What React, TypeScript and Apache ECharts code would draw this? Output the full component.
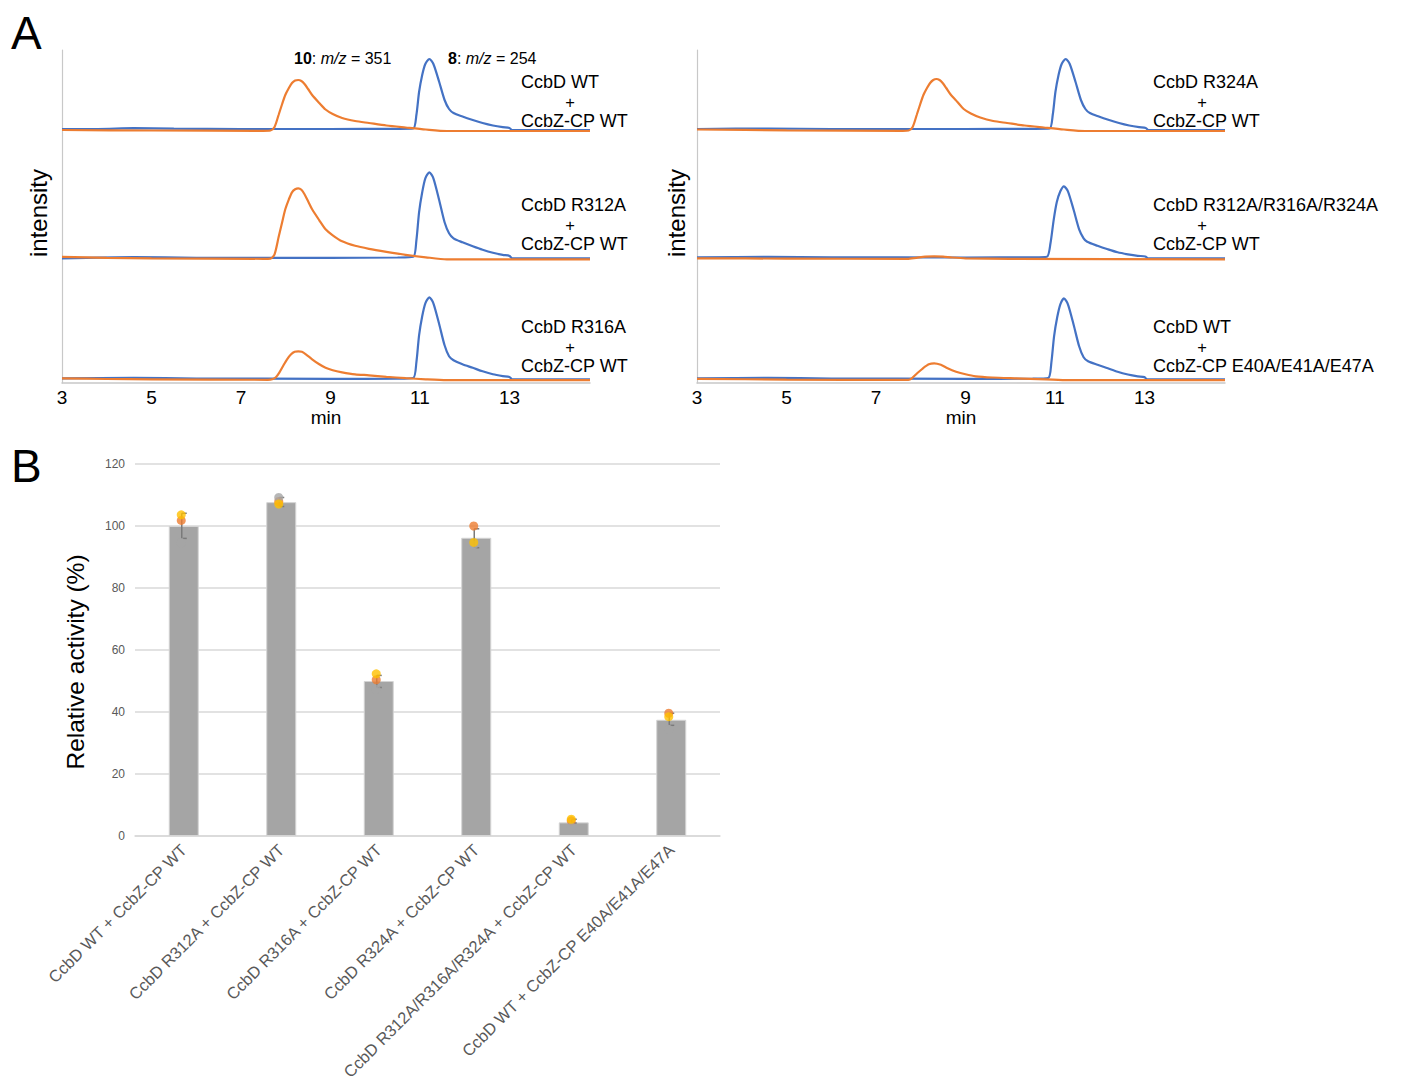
import { useEffect, useRef } from "react";
import * as echarts from "echarts";

const FONT = "'Liberation Sans', Arial, Helvetica, sans-serif";
const BLUE = "#4472C4";
const ORANGE = "#ED7D31";
const AXIS_GREY = "#c8c8c8";

// ---------- Panel A: chromatograms (time in min, intensity in arbitrary units) ----------
const TIME_TICKS = [3, 5, 7, 9, 11, 13];
const TIME_MIN = 3;
const TIME_MAX = 14.8;

const L1_BLUE = [[3,1],[3.8,1],[4.6,1.8],[5.5,1.3],[7,1],[9,1],[10.5,1.2],[10.85,1.6],[10.92,15],[10.98,38],[11.05,55],[11.12,66],[11.21,71],[11.3,66],[11.43,48],[11.55,30],[11.65,21],[11.75,17],[11.95,13.5],[12.18,10],[12.4,7],[12.63,4.5],[12.85,2.8],[13.0,2],[13.06,0],[14.8,0]];
const L1_ORANGE = [[3,0],[5,-0.5],[7.5,-0.8],[7.66,-0.5],[7.75,3],[7.84,15],[7.92,26],[7.99,35],[8.07,42],[8.14,47],[8.21,49.5],[8.28,50],[8.35,49],[8.42,46],[8.5,41],[8.59,35],[8.75,27],[8.89,20.5],[9.05,16],[9.26,12],[9.55,9],[9.86,7],[10.25,4.5],[10.68,2.5],[11.13,0.5],[11.6,-1],[14.8,-1]];

const L2_BLUE = [[3,0],[4.6,1.2],[6,0.5],[9,0.5],[10.5,0.8],[10.85,1.5],[10.92,18],[10.98,46],[11.05,66],[11.12,80],[11.21,86],[11.3,80],[11.43,58],[11.55,36],[11.65,25],[11.75,20],[11.95,16],[12.18,12],[12.4,8.5],[12.63,5.5],[12.85,3.4],[13.0,2.4],[13.06,0],[14.8,0]];
const L2_ORANGE = [[3,1.5],[4,0.5],[5,0],[7.5,-0.5],[7.66,-0.3],[7.75,4],[7.84,21],[7.92,36],[7.99,49],[8.07,59],[8.14,66],[8.21,69],[8.28,70],[8.35,68.5],[8.42,64],[8.5,57],[8.59,49],[8.75,38],[8.89,29],[9.05,23],[9.26,17],[9.55,12.5],[9.86,9.5],[10.25,6.5],[10.68,3.5],[11.13,1],[11.6,-1],[14.8,-1]];

const L3_BLUE = [[3,1],[4.6,1.5],[6,0.8],[9,0.5],[10.5,0.6],[10.85,1.3],[10.92,17],[10.98,44],[11.05,63],[11.12,76],[11.21,82],[11.3,76],[11.43,55],[11.55,34],[11.65,23],[11.75,19],[11.95,15],[12.18,11.5],[12.4,8],[12.63,5],[12.85,3.2],[13.0,2.3],[13.06,0],[14.8,0]];
const L3_ORANGE = [[3,1],[4,0.3],[5,0],[7.6,-0.5],[7.7,0],[7.78,2],[7.86,7],[7.95,14],[8.03,20],[8.12,25],[8.2,27.5],[8.28,28],[8.36,27.5],[8.45,25],[8.59,20],[8.75,15],[8.89,11.5],[9.05,9],[9.26,7],[9.55,5],[9.86,4],[10.25,2.5],[10.68,1.2],[11.13,0],[11.6,-0.8],[14.8,-0.8]];

const R1_BLUE = [[3,1],[4.6,1.5],[6,1],[9,1],[10.5,1.2],[10.88,1.6],[10.95,15],[11.01,38],[11.08,55],[11.15,66],[11.24,71],[11.33,66],[11.46,48],[11.58,30],[11.68,21],[11.78,17],[11.98,13.5],[12.21,10],[12.43,7],[12.66,4.5],[12.88,2.8],[13.03,2],[13.09,0],[14.8,0]];
const R1_ORANGE = [[3,0.5],[5,-0.3],[7.6,-0.8],[7.73,-0.5],[7.82,3],[7.91,15],[7.99,26],[8.06,35],[8.14,42],[8.21,47],[8.28,50],[8.35,51],[8.42,50],[8.49,47],[8.57,42],[8.66,36],[8.82,28],[8.96,21],[9.12,16.5],[9.33,12.5],[9.62,9],[9.93,7],[10.32,4.5],[10.75,2.5],[11.2,0.5],[11.67,-1],[14.8,-1]];

const R2_BLUE = [[3,1],[4.6,1.4],[6,1],[9,0.8],[10.5,1],[10.82,1.5],[10.9,15],[10.97,38],[11.04,56],[11.12,67],[11.2,72],[11.29,67],[11.42,48],[11.54,29],[11.64,20],[11.72,16.5],[11.95,12.5],[12.18,9],[12.4,6],[12.63,4],[12.85,2.5],[13.02,1.8],[13.08,0],[14.8,0]];
const R2_ORANGE = [[3,0],[5,-0.3],[7.7,-0.5],[7.9,0.5],[8.1,1.6],[8.3,2],[8.5,1.6],[8.7,0.8],[9,0],[10,-0.5],[14.8,-1]];

const R3_BLUE = [[3,1],[4.6,1.5],[6,0.8],[9,0.5],[10.5,0.6],[10.85,1.3],[10.92,17],[10.98,43],[11.05,62],[11.12,75],[11.2,81],[11.29,75],[11.42,54],[11.54,33],[11.64,22],[11.74,18],[11.95,14.5],[12.18,11],[12.4,7.5],[12.63,4.8],[12.85,3],[13.0,2.2],[13.06,0],[14.8,0]];
const R3_ORANGE = [[3,0.5],[5,-0.3],[7.6,-0.6],[7.72,-0.5],[7.8,1],[7.92,6],[8.05,11],[8.18,15],[8.3,16],[8.45,14.5],[8.6,11],[8.79,7.6],[9.0,5],[9.23,3],[9.6,1.8],[10.1,1],[10.8,0],[11.3,-0.8],[14.8,-0.8]];

const LEFT_TRACES = [[L1_BLUE, L1_ORANGE], [L2_BLUE, L2_ORANGE], [L3_BLUE, L3_ORANGE]];
const RIGHT_TRACES = [[R1_BLUE, R1_ORANGE], [R2_BLUE, R2_ORANGE], [R3_BLUE, R3_ORANGE]];

const LEFT_LABELS = [["CcbD WT", "CcbZ-CP WT"], ["CcbD R312A", "CcbZ-CP WT"], ["CcbD R316A", "CcbZ-CP WT"]];
const RIGHT_LABELS = [["CcbD R324A", "CcbZ-CP WT"], ["CcbD R312A/R316A/R324A", "CcbZ-CP WT"], ["CcbD WT", "CcbZ-CP E40A/E41A/E47A"]];

// ---------- Panel B: relative activity ----------
const CATEGORIES = [
  "CcbD WT + CcbZ-CP WT",
  "CcbD R312A + CcbZ-CP WT",
  "CcbD R316A + CcbZ-CP WT",
  "CcbD R324A + CcbZ-CP WT",
  "CcbD R312A/R316A/R324A + CcbZ-CP WT",
  "CcbD WT + CcbZ-CP E40A/E41A/E47A",
];
const MEAN_ACTIVITY = [100, 107.7, 50, 96.2, 4.4, 37.5];
const ERR_LOW = [96.0, 106.3, 47.9, 93.0, 4.2, 35.7];
const ERR_HIGH = [104.1, 109.2, 51.8, 99.1, 5.4, 39.6];
const REP_ORANGE = [101.8, 107.9, 50.4, 100.0, 4.9, 39.6];
const REP_GREY = [94.6, 109.2, 47.3, 93.9, 2.9, 34.4];
const REP_YELLOW = [103.6, 107.1, 52.3, 94.7, 5.4, 38.5];
const ACTIVITY_TICKS_MAX = 120;
const ACTIVITY_TICKS_STEP = 20;

export default function App() {
  const ref = useRef<HTMLDivElement>(null);

  useEffect(() => {
    if (!ref.current) return;
    const chart = echarts.init(ref.current, null, { renderer: "svg" });

    const colLefts = [62, 697];
    const rowDefs = [
      { top: 50, height: 85, min: -5 },
      { top: 135, height: 127, min: -3.7 },
      { top: 262, height: 121, min: -3.7 },
    ];

    const grids: any[] = [];
    const xAxes: any[] = [];
    const yAxes: any[] = [];
    const series: any[] = [];

    colLefts.forEach((left, c) => {
      const traces = c === 0 ? LEFT_TRACES : RIGHT_TRACES;
      rowDefs.forEach((rd, r) => {
        const gi = grids.length;
        grids.push({
          left,
          top: rd.top,
          width: 528,
          height: rd.height,
          containLabel: false,
          outerBoundsMode: "none",
        });
        const bottom = r === 2;
        xAxes.push({
          type: "value",
          gridIndex: gi,
          min: TIME_MIN,
          max: TIME_MAX,
          axisLine: { show: bottom, onZero: false, lineStyle: { color: AXIS_GREY, width: 1.5 } },
          axisTick: { show: false },
          splitLine: { show: false },
          axisLabel: {
            show: bottom,
            customValues: TIME_TICKS,
            fontSize: 19,
            color: "#000",
            margin: 5,
            fontFamily: FONT,
          },
          name: bottom ? "min" : "",
          nameLocation: "middle",
          nameGap: 18,
          nameTextStyle: { fontSize: 19, color: "#000", fontFamily: FONT },
        });
        yAxes.push({
          type: "value",
          gridIndex: gi,
          min: rd.min,
          max: rd.min + rd.height,
          axisLine: { show: true, onZero: false, lineStyle: { color: AXIS_GREY, width: 1.2 } },
          axisTick: { show: false },
          axisLabel: { show: false },
          splitLine: { show: false },
        });
        const [blue, orange] = traces[r];
        series.push({
          type: "line",
          xAxisIndex: gi,
          yAxisIndex: gi,
          data: blue,
          showSymbol: false,
          smooth: 0.25,
          lineStyle: { color: BLUE, width: 2.2 },
          itemStyle: { color: BLUE },
          z: 2,
        });
        series.push({
          type: "line",
          xAxisIndex: gi,
          yAxisIndex: gi,
          data: orange,
          showSymbol: false,
          smooth: 0.25,
          lineStyle: { color: ORANGE, width: 2.2 },
          itemStyle: { color: ORANGE },
          z: 3,
        });
      });
    });

    // Panel B grid
    const bi = grids.length;
    grids.push({
      left: 135,
      top: 464,
      width: 585,
      height: 372,
      containLabel: false,
      outerBoundsMode: "none",
    });
    xAxes.push({
      type: "category",
      gridIndex: bi,
      data: CATEGORIES,
      axisLine: { show: true, lineStyle: { color: "#d9d9d9", width: 1.5 } },
      axisTick: { show: false },
      axisLabel: {
        rotate: 45,
        interval: 0,
        fontSize: 16.5,
        color: "#595959",
        margin: 11,
        fontFamily: FONT,
      },
    });
    yAxes.push({
      type: "value",
      gridIndex: bi,
      min: 0,
      max: ACTIVITY_TICKS_MAX,
      interval: ACTIVITY_TICKS_STEP,
      axisLine: { show: false },
      axisTick: { show: false },
      axisLabel: { fontSize: 12, color: "#595959", margin: 10, fontFamily: FONT },
      splitLine: { show: true, lineStyle: { color: "#d9d9d9", width: 1.5 } },
    });

    series.push({
      type: "bar",
      xAxisIndex: bi,
      yAxisIndex: bi,
      data: MEAN_ACTIVITY,
      barWidth: 30,
      itemStyle: { color: "#a5a5a5", borderColor: "#d4d4d4", borderWidth: 1 },
      z: 2,
    });

    series.push({
      type: "custom",
      xAxisIndex: bi,
      yAxisIndex: bi,
      data: CATEGORIES.map((_, i) => [i, ERR_LOW[i], ERR_HIGH[i]]),
      encode: { x: 0, y: [1, 2] },
      z: 3,
      renderItem: (_params: any, api: any) => {
        const idx = api.value(0);
        const lo = api.coord([idx, api.value(1)]);
        const hi = api.coord([idx, api.value(2)]);
        const x = lo[0] - 2;
        const style = { stroke: "#7a7a7a", lineWidth: 1.5 };
        return {
          type: "group",
          children: [
            { type: "line", shape: { x1: x, y1: hi[1], x2: x, y2: lo[1] }, style },
            { type: "line", shape: { x1: x, y1: hi[1], x2: x + 5, y2: hi[1] }, style },
            { type: "line", shape: { x1: x + 1, y1: lo[1], x2: x + 5, y2: lo[1] }, style },
          ],
        };
      },
    });

    const reps: [number[], string][] = [
      [REP_ORANGE, "#ED7D31"],
      [REP_GREY, "#A5A5A5"],
      [REP_YELLOW, "#FFC000"],
    ];
    reps.forEach(([vals, color], k) => {
      series.push({
        type: "scatter",
        xAxisIndex: bi,
        yAxisIndex: bi,
        data: vals,
        symbol: "circle",
        symbolSize: 9,
        symbolOffset: [-2.5, 0],
        itemStyle: { color },
        z: 4 + k,
      });
    });

    // Texts
    const graphic: any[] = [];
    const textEl = (text: string, x: number, y: number, size: number, align = "left", extra: any = {}) => ({
      type: "text",
      x,
      y,
      style: {
        text,
        fontSize: size,
        fontFamily: FONT,
        fill: "#000",
        textAlign: align,
        textVerticalAlign: "middle",
        ...extra,
      },
    });

    graphic.push(textEl("A", 11, 33, 46));
    graphic.push(textEl("B", 11, 466, 46));

    // three-line condition labels
    const rowMidY = [101.5, 224.5, 346.5];
    const LINE_GAP = 19.3;
    [[521, LEFT_LABELS], [1153, RIGHT_LABELS]].forEach(([lx, labels]: any) => {
      labels.forEach((pair: string[], r: number) => {
        const ym = rowMidY[r];
        graphic.push(textEl(pair[0], lx, ym - LINE_GAP, 18));
        graphic.push(textEl("+", lx + 49, ym, 16.5, "center"));
        graphic.push(textEl(pair[1], lx, ym + LINE_GAP, 18));
      });
    });

    const richStyle = {
      b: { fontWeight: "bold", fontSize: 16, fontFamily: FONT },
      i: { fontStyle: "italic", fontSize: 16, fontFamily: FONT },
    };
    graphic.push({
      type: "text",
      x: 294,
      y: 58,
      style: {
        text: "{b|10}: {i|m/z} = 351",
        fontSize: 16,
        fontFamily: FONT,
        fill: "#000",
        textVerticalAlign: "middle",
        rich: richStyle,
      },
    });
    graphic.push({
      type: "text",
      x: 448,
      y: 58,
      style: {
        text: "{b|8}: {i|m/z} = 254",
        fontSize: 16,
        fontFamily: FONT,
        fill: "#000",
        textVerticalAlign: "middle",
        rich: richStyle,
      },
    });

    [38, 676].forEach((x) => {
      graphic.push({
        type: "text",
        x,
        y: 213,
        rotation: Math.PI / 2,
        style: {
          text: "intensity",
          fontSize: 24,
          fontFamily: FONT,
          fill: "#000",
          textAlign: "center",
          textVerticalAlign: "middle",
        },
      });
    });

    graphic.push({
      type: "text",
      x: 75,
      y: 662,
      rotation: Math.PI / 2,
      style: {
        text: "Relative activity (%)",
        fontSize: 24.5,
        fontFamily: FONT,
        fill: "#000",
        textAlign: "center",
        textVerticalAlign: "middle",
      },
    });

    chart.setOption({
      animation: false,
      backgroundColor: "#ffffff",
      textStyle: { fontFamily: FONT },
      grid: grids,
      xAxis: xAxes,
      yAxis: yAxes,
      series,
      graphic,
    });

    return () => chart.dispose();
  }, []);

  return (
    <div
      ref={ref}
      style={{ position: "fixed", left: 0, top: 0, width: 1402, height: 1081, background: "#fff" }}
    />
  );
}
